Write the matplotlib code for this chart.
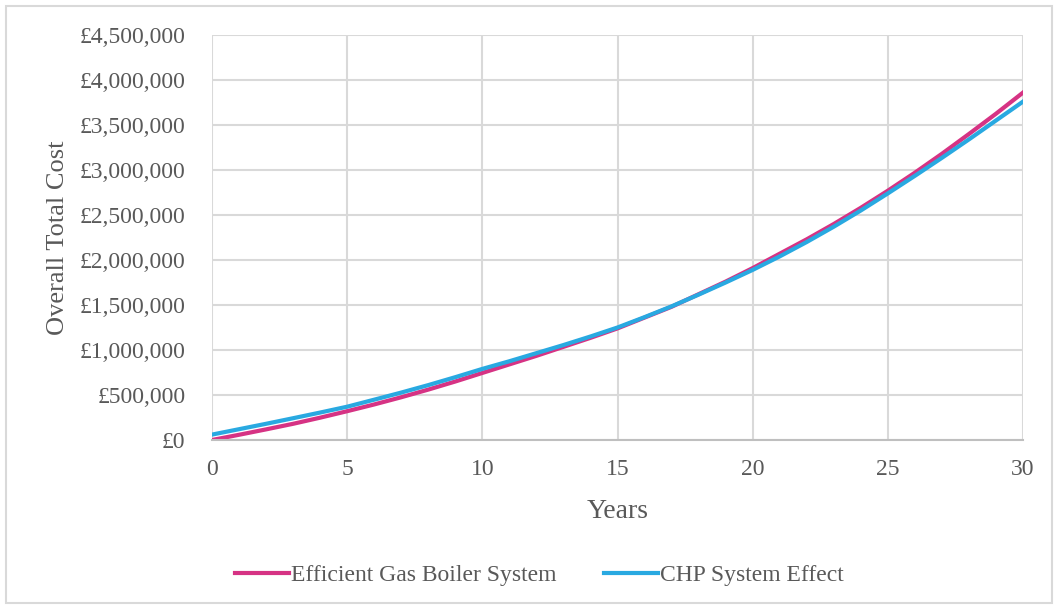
import numpy as np
import matplotlib.pyplot as plt
from matplotlib.patches import Rectangle
from matplotlib.ticker import FuncFormatter

# Cumulative cost per year (in millions of pounds)
years = np.arange(0, 31)
gas_boiler = [0.000, 0.058, 0.118, 0.180, 0.248, 0.320, 0.395, 0.475, 0.560, 0.650,
              0.745, 0.840, 0.935, 1.035, 1.135, 1.240, 1.360, 1.480, 1.620, 1.760,
              1.910, 2.070, 2.230, 2.400, 2.580, 2.770, 2.970, 3.180, 3.400, 3.625,
              3.860]
chp_system = [0.060, 0.120, 0.180, 0.242, 0.305, 0.370, 0.448, 0.527, 0.610, 0.698,
              0.790, 0.875, 0.965, 1.055, 1.150, 1.250, 1.365, 1.485, 1.615, 1.750,
              1.890, 2.040, 2.200, 2.370, 2.550, 2.740, 2.935, 3.135, 3.340, 3.550,
              3.760]

plt.rcParams['font.family'] = ['Liberation Serif', 'DejaVu Serif']
text_col = '#595959'

fig = plt.figure(figsize=(10.59, 6.08), dpi=100)
ax = fig.add_axes([212/1059, 1 - 440/608, (1023-212)/1059, (440-35)/608])

ax.plot(years, np.array(gas_boiler) * 1e6, color='#D63384', linewidth=3, label='Efficient Gas Boiler System')
ax.plot(years, np.array(chp_system) * 1e6, color='#29A9E1', linewidth=3, label='CHP System Effect')

ax.set_xlim(0, 30)
ax.set_ylim(0, 4.5e6)
ax.set_xticks(range(0, 31, 5))
ax.set_yticks(np.arange(0, 4.5e6 + 1, 5e5))
ax.yaxis.set_major_formatter(FuncFormatter(lambda v, p: '£{:,.0f}'.format(v)))
ax.grid(True, color='#d9d9d9', linewidth=1.5)
ax.set_axisbelow(True)
for s in ['top', 'right', 'left']:
    ax.spines[s].set_visible(False)
ax.spines['bottom'].set_color('#bfbfbf')
ax.spines['bottom'].set_linewidth(1.5)
ax.tick_params(length=0, labelsize=17, labelcolor=text_col)
ax.tick_params(axis='x', pad=14)
ax.tick_params(axis='y', pad=19)

ax.set_xlabel('Years', fontsize=20, color=text_col, labelpad=13)
ax.set_ylabel('Overall Total Cost', fontsize=19, color=text_col, labelpad=8)

fig.legend(loc='center', bbox_to_anchor=(0.509, 1 - 575/608), ncol=2, frameon=False,
           fontsize=17, labelcolor=text_col, handlelength=2.3, handletextpad=0.08,
           columnspacing=2.0)

# light frame around the whole chart
fig.patches.append(Rectangle((6/1059, 5/608), 1046/1059, 597/608, transform=fig.transFigure,
                             fill=False, edgecolor='#d9d9d9', linewidth=1.5))

fig.savefig('out.png', dpi=100)
